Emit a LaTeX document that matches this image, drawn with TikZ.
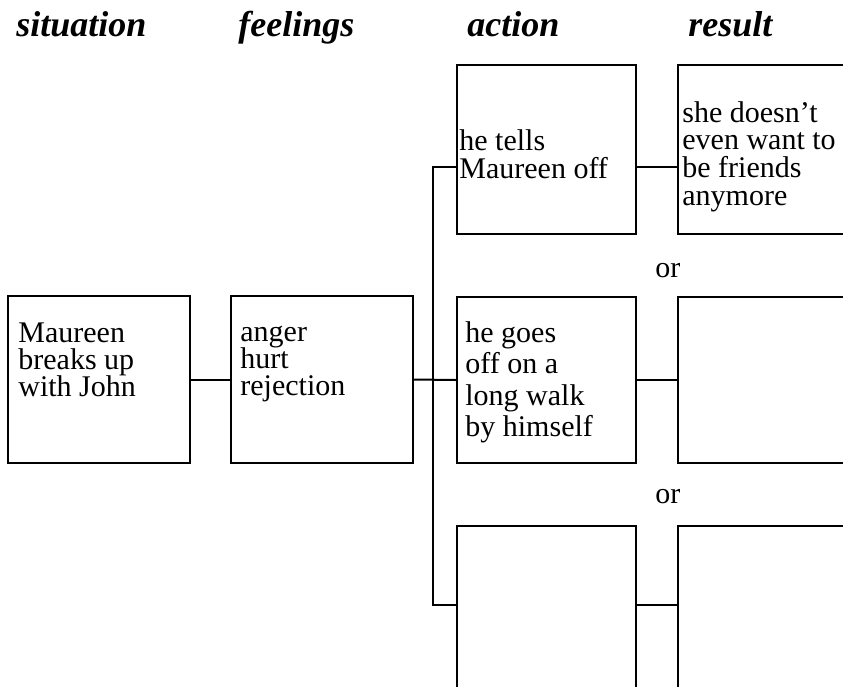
\documentclass[tikz,border=0pt]{standalone}
\usepackage{fontspec}
\setmainfont{Liberation Serif}
\newcommand{\boxlines}[2]{\parbox[t]{110pt}{\fontsize{15pt}{#1}\selectfont\raggedright #2}}
\begin{document}
\begin{tikzpicture}[x=0.5pt,y=-0.5pt,
  box/.style={draw=black, line width=1pt, rectangle, inner sep=0pt, minimum width=#1},
  box/.default=91pt,
  txt/.style={anchor=base west, inner sep=0pt},
  head/.style={anchor=base west, inner sep=0pt, font=\fontsize{18pt}{20pt}\selectfont\bfseries\itshape},
  conn/.style={line width=1pt}]
\clip (0,0) rectangle (843,687);
\fill[white] (0,0) rectangle (843,687);
% headers
\node[head] (h1) at (16,36) {situation};
\node[head] (h2) at (238,36) {feelings};
\node[head] (h3) at (467,36) {action};
\node[head] (h4) at (688,36) {result};
% boxes
\node[box, minimum height=83.5pt] (s) at (99,379.5) {};
\node[box, minimum height=83.5pt] (f) at (322,379.5) {};
\node[box=89.5pt, minimum height=84.5pt] (a1) at (546.5,149.5) {};
\node[box, minimum height=84.5pt] (r1) at (769,149.5) {};
\node[box=89.5pt, minimum height=83pt] (a2) at (546.5,380) {};
\node[box, minimum height=83pt] (r2) at (769,380) {};
\node[box=89.5pt, minimum height=84pt] (a3) at (546.5,610) {};
\node[box, minimum height=84pt] (r3) at (769,610) {};
% texts
\node[txt] (ts) at (18,342) {\boxlines{13.7pt}{Maureen\\breaks up\\with John}};
\node[txt] (tf) at (240,341) {\boxlines{13.7pt}{anger\\hurt\\rejection}};
\node[txt] (ta1) at (459,150) {\boxlines{14pt}{he tells\\Maureen off}};
\node[txt] (tr1) at (682,122) {\boxlines{13.9pt}{she doesn’t\\even want to\\be friends\\anymore}};
\node[txt] (ta2) at (465,342) {\boxlines{15.8pt}{he goes\\off on a\\long walk\\by himself}};
\node[txt, font=\fontsize{15pt}{16pt}\selectfont] (or1) at (655,277) {or};
\node[txt, font=\fontsize{15pt}{16pt}\selectfont] (or2) at (655,503) {or};
% connectors
\coordinate (j1) at (433,167);
\coordinate (j3) at (433,605);
\draw[conn] (s.east) -- (f.west);
\draw[conn] (f.east) -- (a2.west);
\draw[conn] (a1.west |- j1) -| (j3) -- (a3.west |- j3);
\draw[conn] (a1.east |- j1) -- (r1.west |- j1);
\draw[conn] (a2.east) -- (r2.west);
\draw[conn] (a3.east |- j3) -- (r3.west |- j3);
\end{tikzpicture}
\end{document}
